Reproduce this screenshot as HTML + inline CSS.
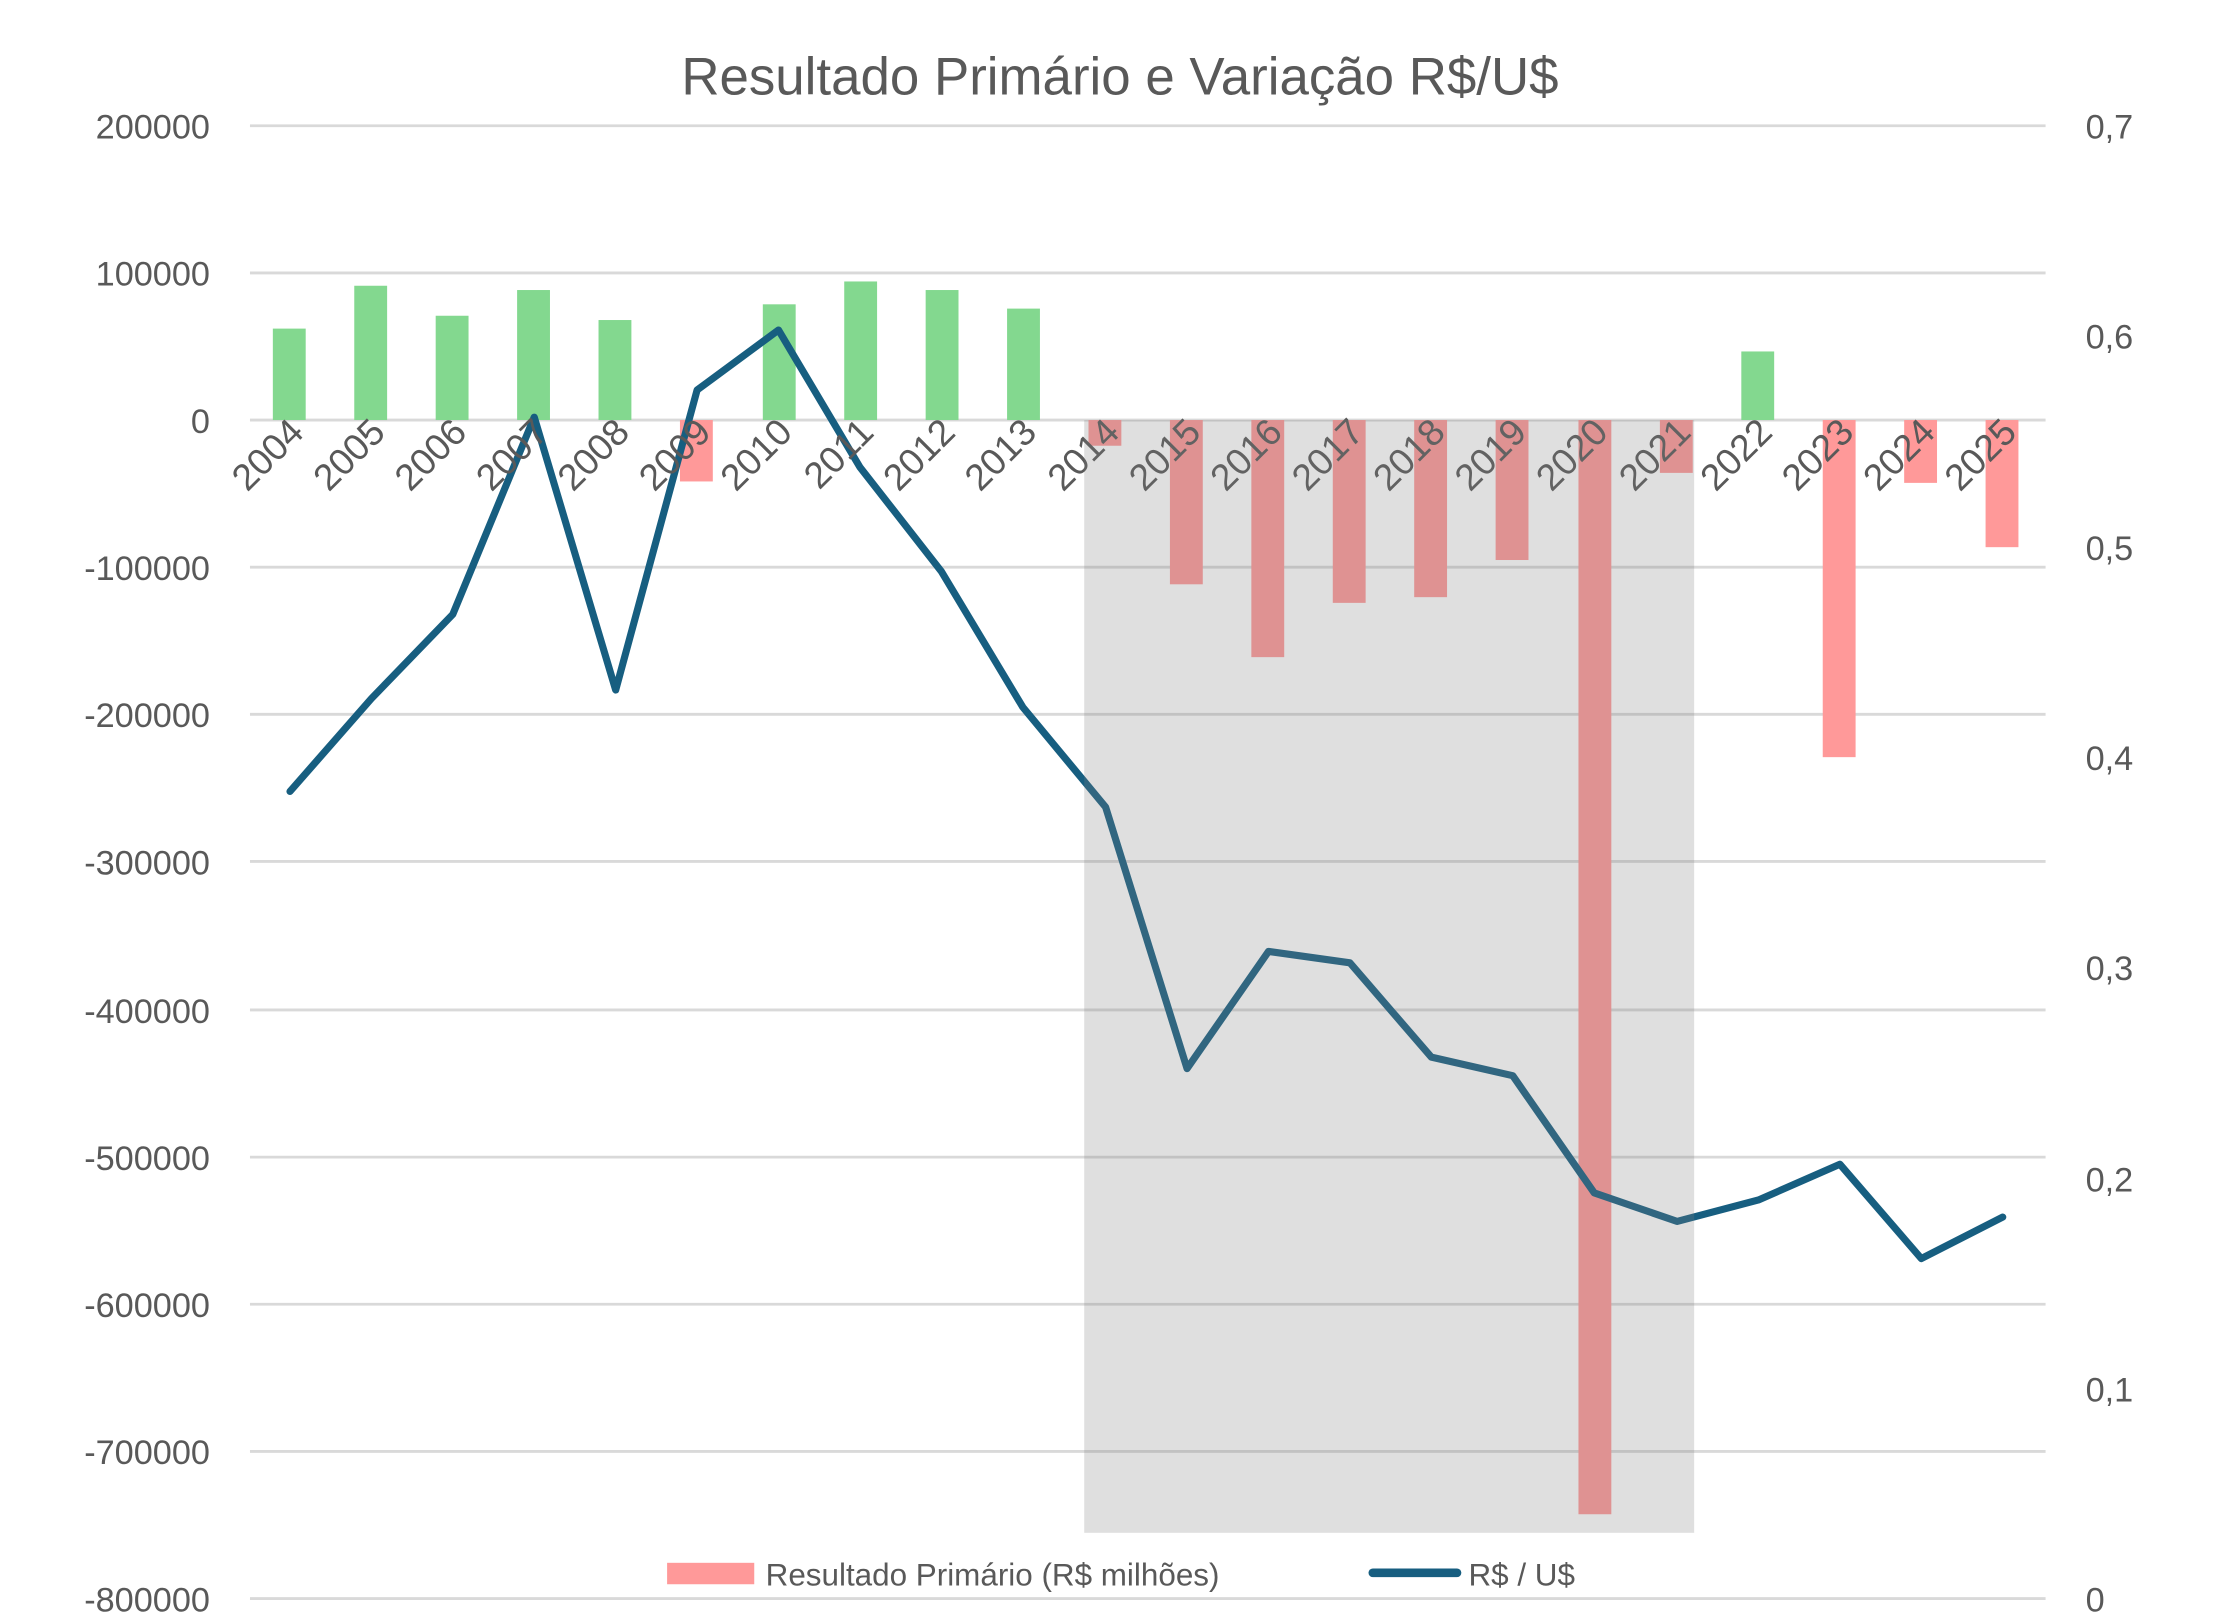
<!DOCTYPE html>
<html><head><meta charset="utf-8"><style>html,body{margin:0;padding:0;background:#fff}svg{display:block}text{font-family:"Liberation Sans Narrow","Liberation Sans",sans-serif;fill:#595959}</style></head>
<body>
<svg width="2217" height="1624" viewBox="0 0 1552 1136.8" xmlns="http://www.w3.org/2000/svg">
<rect width="1552" height="1137" fill="#fff"/>
<text x="784" y="66" font-size="37" text-anchor="middle">Resultado Primário e Variação R$/U$</text>
<g stroke="#d9d9d9" stroke-width="2">
<line x1="175" x2="1432" y1="88" y2="88"/><line x1="175" x2="1432" y1="191" y2="191"/><line x1="175" x2="1432" y1="294" y2="294"/><line x1="175" x2="1432" y1="397" y2="397"/><line x1="175" x2="1432" y1="500" y2="500"/><line x1="175" x2="1432" y1="603" y2="603"/><line x1="175" x2="1432" y1="707" y2="707"/><line x1="175" x2="1432" y1="810" y2="810"/><line x1="175" x2="1432" y1="913" y2="913"/><line x1="175" x2="1432" y1="1016" y2="1016"/><line x1="175" x2="1432" y1="1119" y2="1119"/>
</g>
<g font-size="24" text-anchor="end">
<text x="147" y="97">200000</text><text x="147" y="200">100000</text><text x="147" y="303">0</text><text x="147" y="406">-100000</text><text x="147" y="509">-200000</text><text x="147" y="612">-300000</text><text x="147" y="716">-400000</text><text x="147" y="819">-500000</text><text x="147" y="922">-600000</text><text x="147" y="1025">-700000</text><text x="147" y="1128">-800000</text>
</g>
<g font-size="24">
<text x="1460" y="97">0,7</text><text x="1460" y="244">0,6</text><text x="1460" y="392">0,5</text><text x="1460" y="539">0,4</text><text x="1460" y="686">0,3</text><text x="1460" y="834">0,2</text><text x="1460" y="981">0,1</text><text x="1460" y="1128">0</text>
</g>
<g fill="#83d88f">
<rect x="191" y="230" width="23" height="64"/><rect x="248" y="200" width="23" height="94"/><rect x="305" y="221" width="23" height="73"/><rect x="362" y="203" width="23" height="91"/><rect x="419" y="224" width="23" height="70"/><rect x="534" y="213" width="23" height="81"/><rect x="591" y="197" width="23" height="97"/><rect x="648" y="203" width="23" height="91"/><rect x="705" y="216" width="23" height="78"/><rect x="1219" y="246" width="23" height="48"/>
</g>
<g fill="#ff9999">
<rect x="476" y="294" width="23" height="43"/><rect x="762" y="294" width="23" height="18"/><rect x="819" y="294" width="23" height="115"/><rect x="876" y="294" width="23" height="166"/><rect x="933" y="294" width="23" height="128"/><rect x="990" y="294" width="23" height="124"/><rect x="1047" y="294" width="23" height="98"/><rect x="1105" y="294" width="23" height="766"/><rect x="1162" y="294" width="23" height="37"/><rect x="1276" y="294" width="23" height="236"/><rect x="1333" y="294" width="23" height="44"/><rect x="1390" y="294" width="23" height="89"/>
</g>
<polyline fill="none" stroke="#175e80" stroke-width="5" stroke-linejoin="round" stroke-linecap="round" points="203,554 260,489 317,430 374,292 431,483 488,273 545,231 602,327 659,400 716,495 774,565 831,748 888,666 945,674 1002,740 1059,753 1116,835 1174,855 1231,840 1288,815 1345,881 1402,852"/>
<g font-size="26" text-anchor="end">
<text transform="translate(214,304) rotate(-45)">2004</text><text transform="translate(271,304) rotate(-45)">2005</text><text transform="translate(328,304) rotate(-45)">2006</text><text transform="translate(385,304) rotate(-45)">2007</text><text transform="translate(442,304) rotate(-45)">2008</text><text transform="translate(499,304) rotate(-45)">2009</text><text transform="translate(556,304) rotate(-45)">2010</text><text transform="translate(613,304) rotate(-45)">2011</text><text transform="translate(670,304) rotate(-45)">2012</text><text transform="translate(727,304) rotate(-45)">2013</text><text transform="translate(785,304) rotate(-45)">2014</text><text transform="translate(842,304) rotate(-45)">2015</text><text transform="translate(899,304) rotate(-45)">2016</text><text transform="translate(956,304) rotate(-45)">2017</text><text transform="translate(1013,304) rotate(-45)">2018</text><text transform="translate(1070,304) rotate(-45)">2019</text><text transform="translate(1127,304) rotate(-45)">2020</text><text transform="translate(1185,304) rotate(-45)">2021</text><text transform="translate(1242,304) rotate(-45)">2022</text><text transform="translate(1299,304) rotate(-45)">2023</text><text transform="translate(1356,304) rotate(-45)">2024</text><text transform="translate(1413,304) rotate(-45)">2025</text>
</g>
<rect x="759" y="294" width="427" height="779" fill="#7f7f7f" fill-opacity="0.25"/>
<rect x="467" y="1094" width="61" height="15" fill="#ff9999"/>
<text x="536" y="1110" font-size="22">Resultado Primário (R$ milhões)</text>
<line x1="961" x2="1020" y1="1101" y2="1101" stroke="#175e80" stroke-width="6" stroke-linecap="round"/>
<text x="1028" y="1110" font-size="22">R$ / U$</text>
</svg>
</body></html>
